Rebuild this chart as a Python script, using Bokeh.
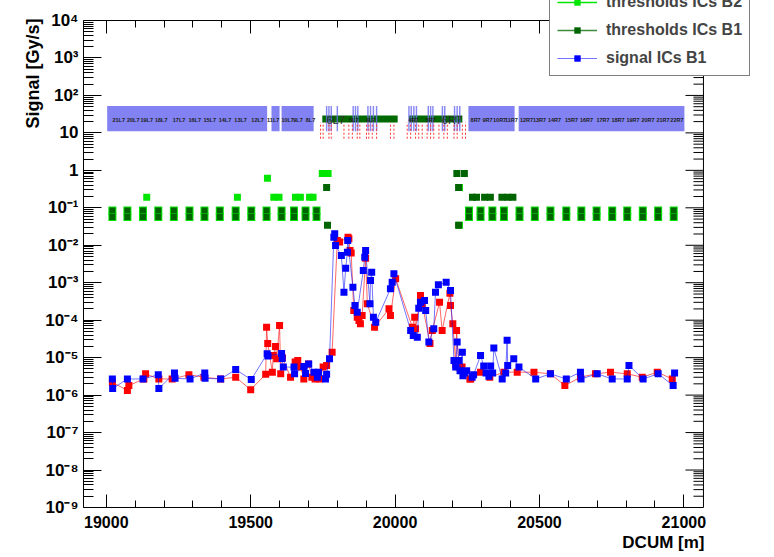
import math
from bokeh.plotting import figure
from bokeh.models import (Range1d, LinearAxis, FixedTicker, CustomJSTickFormatter,
                          Legend, LegendItem, Title, ColumnDataSource)
from bokeh.core.properties import value
from bokeh.embed import file_html
from bokeh.resources import INLINE

FONT = "Liberation Sans"

# ---------------- data ----------------
# signal ICs B1 (blue)
b1_dcum = [19021, 19022, 19073, 19127, 19180, 19182, 19236, 19238, 19290, 19341, 19342, 19396,
           19448, 19502, 19557, 19560, 19607, 19609, 19613, 19650, 19652, 19684, 19690, 19701,
           19719, 19731, 19735, 19759, 19763, 19773, 19788, 19791, 19794, 19814, 19823, 19829,
           19835, 19836, 19854, 19861, 19869, 19890, 19895, 19898, 19913, 19915, 19919, 19925,
           19933, 19984, 19990, 19996, 20054, 20063, 20077, 20082, 20088, 20102, 20106, 20117,
           20134, 20140, 20150, 20177, 20192, 20204, 20210, 20215, 20221, 20225, 20233, 20235,
           20240, 20248, 20267, 20272, 20296, 20307, 20315, 20325, 20331, 20338, 20342, 20371,
           20383, 20388, 20390, 20411, 20429, 20487, 20538, 20593, 20642, 20644, 20700, 20752,
           20804, 20810, 20859, 20911, 20963, 20968]
b1_sig = [2.7e-6, 1.5e-6, 2.7e-6, 2.7e-6, 3.5e-6, 1.5e-6, 3.9e-6, 2.8e-6, 2.7e-6, 3.9e-6, 2.8e-6, 2.7e-6,
          4.8e-6, 2.6e-6, 1.27e-5, 1.1e-5, 1.3e-5, 9.5e-6, 5.6e-6, 5.6e-6, 3.7e-6, 5.8e-6, 3.8e-6, 6.8e-6,
          4.1e-6, 3.0e-6, 4.1e-6, 2.7e-6, 3.6e-6, 9.3e-6, 0.0164, 0.0202, 0.00986, 0.00533, 0.00056, 0.00244,
          0.00653, 0.0134, 0.00076, 0.000247, 0.000163, 0.00212, 0.0048, 0.00724, 0.000274, 0.00115, 0.00191, 0.00012,
          8.8e-5, 0.00069, 0.00103, 0.00173, 5.3e-5, 3.9e-5, 3.5e-5, 0.000209, 0.0003, 0.000335, 0.000181, 2.6e-5,
          5.9e-5, 0.00056, 0.00088, 0.00103, 0.00062, 8.4e-6, 5.6e-6, 2.6e-5, 8.4e-6, 4.5e-6, 1.4e-5, 3.3e-6,
          3.9e-6, 4.5e-6, 3.0e-6, 3.5e-6, 1.14e-5, 6.0e-6, 3.9e-6, 3.2e-6, 6.0e-6, 3.9e-6, 1.8e-5, 2.7e-6,
          3.9e-6, 2.9e-5, 6.2e-6, 9.3e-6, 5.6e-6, 2.7e-6, 3.7e-6, 2.7e-6, 4.1e-6, 2.7e-6, 3.7e-6, 2.7e-6,
          2.7e-6, 6.2e-6, 2.7e-6, 3.7e-6, 1.8e-6, 3.9e-6]

# signal ICs B2 (red)
b2_dcum = [19021, 19073, 19078, 19130, 19136, 19182, 19228, 19286, 19338, 19396, 19448, 19500,
           19552, 19555, 19559, 19575, 19578, 19586, 19590, 19600, 19604, 19610, 19638, 19654,
           19663, 19673, 19684, 19700, 19712, 19723, 19740, 19751, 19763, 19782, 19800, 19808,
           19837, 19840, 19844, 19848, 19857, 19869, 19875, 19880, 19886, 19898, 19904, 19929,
           19979, 19984, 20002, 20060, 20068, 20071, 20088, 20094, 20121, 20129, 20154, 20163,
           20190, 20192, 20200, 20210, 20213, 20221, 20232, 20259, 20262, 20296, 20328, 20377,
           20423, 20481, 20538, 20588, 20642, 20694, 20746, 20804, 20856, 20908, 20960]
b2_sig = [2.2e-6, 1.33e-6, 1.8e-6, 2.7e-6, 3.7e-6, 2.7e-6, 2.7e-6, 3.5e-6, 3.0e-6, 2.7e-6, 3.0e-6, 1.4e-6,
          3.6e-6, 6.5e-5, 2.4e-5, 4.1e-6, 1.14e-5, 2.0e-5, 9.3e-6, 7.2e-5, 3.7e-6, 1.0e-5, 3.0e-6, 7.6e-6,
          8.4e-6, 5.6e-6, 2.7e-6, 6.8e-6, 3.0e-6, 2.7e-6, 2.7e-6, 5.6e-6, 6.2e-6, 1.4e-5, 0.0134, 0.0122,
          0.0164, 0.0149, 0.00724, 0.0062, 0.000181, 0.00012, 9.8e-5, 8.0e-5, 0.000133, 0.0045, 0.000274, 6.5e-5,
          0.000201, 0.000133, 0.00127, 6.5e-5, 0.00012, 5.9e-5, 0.000456, 0.000274, 2.4e-5, 5.3e-5, 0.0003, 5.3e-5,
          0.000525, 0.000247, 8.0e-5, 6.8e-6, 5.3e-5, 5.6e-6, 5.6e-6, 2.7e-6, 2.7e-6, 4.1e-6, 3.0e-6, 4.1e-6,
          4.1e-6, 4.1e-6, 3.7e-6, 1.8e-6, 3.0e-6, 3.7e-6, 4.1e-6, 3.7e-6, 3.0e-6, 4.1e-6, 2.7e-6]

# threshold ICs: regular arc cells (both beams, two monitors per cell)
cell_dcum = [19021, 19073, 19127, 19180, 19234, 19288, 19340, 19393, 19448, 19502, 19555, 19607,
             19650, 19690, 19728, 20256, 20296, 20337, 20377, 20431, 20484, 20538, 20593, 20645,
             20698, 20752, 20804, 20858, 20911, 20965]
cell_thr = [0.085, 0.057]
# extra thresholds B2 (light green)
thr2_dcum = [19140, 19454, 19558, 19580, 19598, 19655, 19672, 19704, 19716, 19748, 19768, 20223, 20223]
thr2_val = [0.19, 0.19, 0.62, 0.19, 0.19, 0.19, 0.19, 0.19, 0.19, 0.82, 0.82, 0.35, 0.034]
# extra thresholds B1 (dark green)
thr1_dcum = [19763, 19766, 20214, 20240, 20220, 20268, 20282, 20310, 20330, 20370, 20390, 20408, 20220]
thr1_val = [0.35, 0.034, 0.82, 0.82, 0.35, 0.19, 0.19, 0.19, 0.19, 0.19, 0.19, 0.19, 0.034]

# layout band (elements)
band_left = [19003, 19572, 19607, 20254, 20428]
band_right = [19557, 19600, 19718, 20414, 21002]
coll_dcum = [19763, 19771, 19779, 19800, 19855, 19863, 19871, 19906, 19915, 19925, 19936,
             20048, 20056, 20065, 20074, 20115, 20123, 20131, 20164, 20172, 20206, 20215, 20224]
b2el_dcum = [19742, 19751, 19771, 19779, 19823, 19840, 19852, 19869, 19878, 19901, 19909, 19921,
             19936, 19984, 19996, 20042, 20054, 20071, 20082, 20094, 20111, 20123, 20134, 20152,
             20169, 20181, 20204, 20215, 20233, 20244]
ins_left = [19748, 20048]
ins_right = [20009, 20233]
cell_names = ["21L7", "20L7", "19L7", "18L7", "17L7", "16L7", "15L7", "14L7", "13L7", "12L7",
              "11L7", "10L7", "9L7", "8L7", "5L7", "4L7", "4R7", "5R7", "8R7", "9R7", "10R7",
              "11R7", "12R7", "13R7", "14R7", "15R7", "16R7", "17R7", "18R7", "19R7", "20R7",
              "21R7", "22R7"]
cell_name_dcum = [19043, 19093, 19140, 19190, 19252, 19306, 19358, 19411, 19465, 19524,
                  19578, 19628, 19664, 19707, 19857, 19915, 20064, 20123, 20279, 20320, 20362,
                  20403, 20455, 20500, 20552, 20611, 20663, 20720, 20772, 20824, 20876,
                  20928, 20976]
ir_names = ["6L7", "6R7"]
ir_name_dcum = [19794, 20197]

x_major = [19000, 19500, 20000, 20500, 21000]
y_major = [10.0 ** k for k in range(-9, 5)]
X_LO, X_HI = 18921, 21068       # drawn axis extent
Y_LO, Y_HI = 1e-9, 1e4

# ---------------- figure ----------------
# the frame spans the canvas to the top/right so the legend can overhang the axes box
p = figure(width=774, height=557, y_axis_type="log",
           x_range=Range1d(X_LO, 21314), y_range=Range1d(Y_LO, 3.42e4),
           output_backend="svg", toolbar_location=None,
           min_border_left=83, min_border_right=0, min_border_top=0, min_border_bottom=50)
p.outline_line_color = None
p.grid.visible = False
p.background_fill_color = "white"
p.border_fill_color = "white"

x_minor = list(range(19000, 21001, 100))
y_minor = [m * 10.0 ** k for k in range(-9, 4) for m in range(2, 10)]
xt = FixedTicker(ticks=x_major, minor_ticks=x_minor)
yt = FixedTicker(ticks=y_major, minor_ticks=y_minor)

fmt = CustomJSTickFormatter(code="""
const e = Math.round(Math.log10(tick));
if (e == 0) return "1";
if (e == 1) return "10";
const sup = {"-":"\u207b","0":"\u2070","1":"\u00b9","2":"\u00b2","3":"\u00b3","4":"\u2074",
             "5":"\u2075","6":"\u2076","7":"\u2077","8":"\u2078","9":"\u2079"};
return "10" + String(e).split("").map(c => sup[c]).join("");
""")
blank = CustomJSTickFormatter(code="return '';")

def style_axis(ax, tick_in, tick_minor_in):
    ax.axis_line_color = "black"
    ax.axis_line_width = 1
    ax.major_tick_line_color = "black"
    ax.minor_tick_line_color = "black"
    ax.major_tick_in = tick_in
    ax.major_tick_out = 0
    ax.minor_tick_in = tick_minor_in
    ax.minor_tick_out = 0

xa = p.xaxis[0]
xa.ticker = xt
xa.bounds = (X_LO, X_HI)
style_axis(xa, 13, 7)
xa.major_label_text_font = FONT
xa.major_label_text_font_style = "bold"
xa.major_label_text_font_size = "16px"
xa.major_label_text_color = "black"
xa.major_label_standoff = 8

ya = p.yaxis[0]
ya.ticker = yt
ya.formatter = fmt
ya.bounds = (Y_LO, Y_HI)
style_axis(ya, 18, 10)
ya.major_label_text_font = FONT
ya.major_label_text_font_style = "bold"
ya.major_label_text_font_size = "17px"
ya.major_label_text_color = "black"
ya.major_label_standoff = 5

# mirrored top axis (ticks pointing down into the box)
top = LinearAxis(ticker=xt, fixed_location=Y_HI, bounds=(X_LO, X_HI), formatter=blank,
                 major_label_text_font_size="1px", major_label_text_alpha=0,
                 major_label_standoff=0)
style_axis(top, 13, 7)
p.add_layout(top, "above")

p.add_layout(Title(text="Signal [Gy/s]", align="right", offset=18, standoff=0,
                   text_font=FONT, text_font_style="bold", text_font_size="18px",
                   text_color="black"), "left")
p.add_layout(Title(text="DCUM [m]", align="right", offset=70, standoff=0,
                   text_font=FONT, text_font_style="bold", text_font_size="17px",
                   text_color="black"), "below")

# mirrored right-hand axis: rule at the end of the x extent, ticks at the y tick values
p.segment(x0=X_HI, y0=Y_LO, x1=X_HI, y1=Y_HI, line_color="black", line_width=1)
p.ray(x=X_HI, y=y_major, length=18, length_units="screen", angle=math.pi,
      line_color="black", line_width=1)
p.ray(x=X_HI, y=[t for t in y_minor if t < Y_HI], length=10, length_units="screen",
      angle=math.pi, line_color="black", line_width=1)

# layout band
BLUE_BAND = "#8282f2"
p.quad(left=band_left, right=band_right, bottom=11, top=52, fill_color=BLUE_BAND,
       line_color=None)
p.quad(left=ins_left, right=ins_right, bottom=19, top=29, fill_color="#006a00",
       line_color=None)
p.vbar(x=coll_dcum, width=5, bottom=11, top=52, fill_color="#6c6cf0", fill_alpha=0.8,
       line_color=None)
p.segment(x0=b2el_dcum, y0=7, x1=b2el_dcum, y1=19, line_color="#ff3030", line_width=1,
          line_dash="2 2")
p.text(x=cell_name_dcum, y=22, text=cell_names, text_font=value(FONT),
       text_font_size="5.5px", text_font_style="bold", text_color="#202020",
       text_align="center", text_baseline="middle")
p.text(x=ir_name_dcum, y=22, text=ir_names, text_font=value(FONT),
       text_font_size="11px", text_color="#303030",
       text_align="center", text_baseline="middle")

# thresholds
LG = "#00e600"
DG = "#006400"
reg_x = [x for x in cell_dcum for _ in cell_thr]
reg_y = [t for _ in cell_dcum for t in cell_thr]
thr_src = ColumnDataSource(dict(x=reg_x, y=reg_y))
thr2_sc = p.scatter("x", "y", source=thr_src, marker="square", size=8, fill_color=LG,
                    line_color=None)
p.scatter(thr2_dcum, thr2_val, marker="square", size=7, fill_color=LG, line_color=None)
thr1_sc = p.scatter("x", "y", source=thr_src, marker="square", size=6, fill_color=DG,
                    line_color=None)
p.scatter(thr1_dcum, thr1_val, marker="square", size=7, fill_color=DG, line_color=None)
# threshold graphs show markers only; zero-length segments at the same points carry the
# line style that the legend shows
thr2_ln = p.segment(x0="x", y0="y", x1="x", y1="y", source=thr_src, line_color=LG,
                    line_width=1.5, line_cap="butt")
thr1_ln = p.segment(x0="x", y0="y", x1="x", y1="y", source=thr_src, line_color="#3c8c3c",
                    line_width=1.5, line_cap="butt")

# signals
red_ln = p.line(b2_dcum, b2_sig, line_color="#ff0000", line_alpha=0.6, line_width=1)
red_sc = p.scatter(b2_dcum, b2_sig, marker="square", size=7, fill_color="#ff0000",
                   line_color=None)
blue_ln = p.line(b1_dcum, b1_sig, line_color="#0000ff", line_alpha=0.55, line_width=1)
blue_sc = p.scatter(b1_dcum, b1_sig, marker="square", size=7, fill_color="#0000ff",
                    line_color=None)

legend = Legend(items=[
    LegendItem(label="signal ICs B2", renderers=[red_ln, red_sc]),
    LegendItem(label="thresholds ICs B2", renderers=[thr2_ln, thr2_sc]),
    LegendItem(label="thresholds ICs B1", renderers=[thr1_ln, thr1_sc]),
    LegendItem(label="signal ICs B1", renderers=[blue_ln, blue_sc]),
], location=(466, 431), orientation="vertical",
    label_text_font=FONT, label_text_font_style="bold", label_text_font_size="16px",
    glyph_width=40, glyph_height=16, label_height=20, label_standoff=9,
    padding=7, spacing=8, margin=0,
    border_line_color="black", border_line_width=1,
    background_fill_color="white", background_fill_alpha=1.0)
p.add_layout(legend)

open("out.html", "w").write(file_html(p, INLINE))
